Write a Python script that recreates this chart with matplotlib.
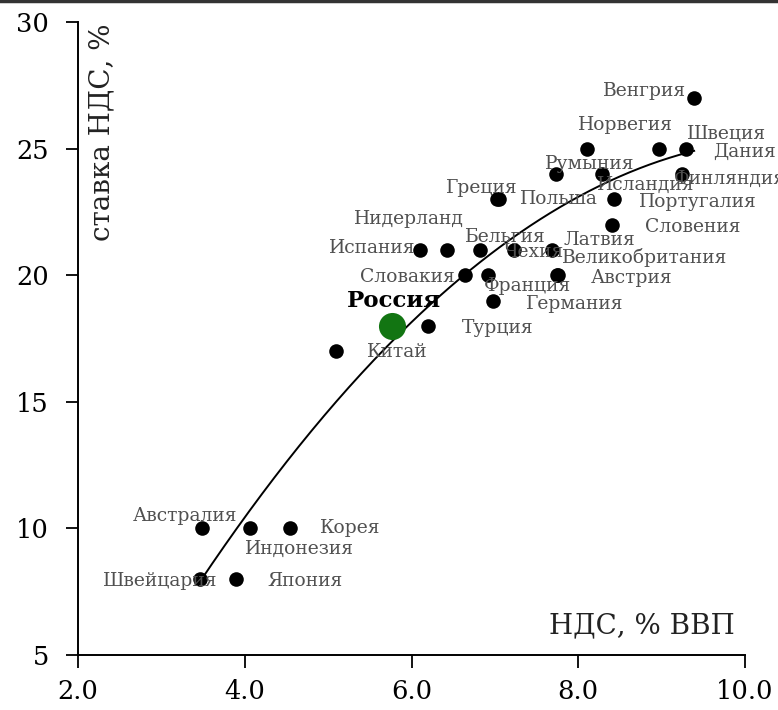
import numpy as np
import matplotlib.pyplot as plt
from matplotlib.lines import Line2D

# страны, НДС в % ВВП и ставка НДС
countries = ['Венгрия', 'Норвегия', 'Дания', 'Швеция', 'Румыния', 'Исландия',
             'Финляндия', 'Греция', 'Польша', 'Португалия', 'Словения',
             'Испания', 'Нидерланд', 'Бельгия', 'Чехия', 'Латвия',
             'Словакия', 'Франция', 'Великобритания', 'Австрия', 'Германия',
             'Турция', 'Китай', 'Австралия', 'Индонезия', 'Корея',
             'Швейцария', 'Япония']
vat_gdp = [9.39, 8.10, 8.97, 9.29, 7.73, 8.29, 9.24, 7.02, 7.05, 8.43, 8.41,
           6.10, 6.43, 6.82, 7.23, 7.68,
           6.64, 6.92, 7.74, 7.76, 6.98,
           6.20, 5.09, 3.49, 4.06, 4.54,
           3.46, 3.89]
vat_rate = [27, 25, 25, 25, 24, 24, 24, 23, 23, 23, 22,
            21, 21, 21, 21, 21,
            20, 20, 20, 20, 19,
            18, 17, 10, 10, 10,
            8, 8]
# смещения подписей (пиксели)
label_off = [(-50, 7), (39, 24), (85, -3), (41, 15), (34, 10), (43, -11),
             (48, -5), (-15, 11), (60, 0), (84, -3), (80, -2),
             (-48, 2), (-38, 31), (25, 13), (20, -2), (48, 10),
             (-58, -2), (39, -11), (88, 18), (73, -3), (82, -3),
             (69, -2), (62, -1), (-17, 12), (50, -21), (60, 0),
             (-40, -2), (69, -2)]

russia_x = 5.77
russia_y = 18

xticks = [2.0, 4.0, 6.0, 8.0, 10.0]
yticks = [5, 10, 15, 20, 25, 30]

plt.rcParams['font.family'] = ['DejaVu Serif']

fig = plt.figure(figsize=(7.78, 7.10), dpi=100)
ax = fig.add_axes([0.1003, 0.0775, 0.8573, 0.8915])

# линия тренда (полином 2-й степени)
all_x = np.array(vat_gdp + [russia_x])
all_y = np.array(vat_rate + [russia_y])
coef = np.polyfit(all_x, all_y, 2)
xs = np.linspace(all_x.min(), all_x.max(), 200)
ax.plot(xs, np.polyval(coef, xs), color='black', lw=1.4, zorder=2)

ax.scatter(vat_gdp, vat_rate, s=110, color='black', zorder=3, linewidths=0)
ax.scatter([russia_x], [russia_y], s=380, color='#127512', zorder=4,
           linewidths=0)

for name, x, y, off in zip(countries, vat_gdp, vat_rate, label_off):
    ax.annotate(name, (x, y), xytext=off, textcoords='offset pixels',
                ha='center', va='center', fontsize=13.5, color='#505050',
                zorder=5)
ax.annotate('Россия', (russia_x, russia_y), xytext=(2, 25),
            textcoords='offset pixels', ha='center', va='center',
            fontsize=16.5, fontweight='bold', color='black', zorder=5)

ax.set_xlim(2.0, 10.0)
ax.set_ylim(5, 30)
ax.set_xticks(xticks)
ax.set_xticklabels([f'{t:.1f}' for t in xticks])
ax.set_yticks(yticks)
ax.tick_params(axis='both', direction='out', length=9, width=1.3,
               labelsize=18.5, colors='black')
ax.tick_params(axis='x', pad=8)
ax.tick_params(axis='y', pad=12)
ax.spines['top'].set_visible(False)
ax.spines['right'].set_visible(False)
for s in ['left', 'bottom']:
    ax.spines[s].set_linewidth(1.4)
ax.set_facecolor('white')

ax.text(0.985, 0.025, 'НДС, % ВВП', transform=ax.transAxes, ha='right',
        va='bottom', fontsize=20, color='#222222')
ax.text(0.035, 0.997, 'ставка НДС, %', transform=ax.transAxes, ha='center',
        va='top', rotation=90, fontsize=20, color='#222222')

fig.add_artist(Line2D([0, 1], [0.998, 0.998], color='#333333', lw=2.5,
                      transform=fig.transFigure))

fig.savefig('out.png', dpi=100, facecolor='white')
